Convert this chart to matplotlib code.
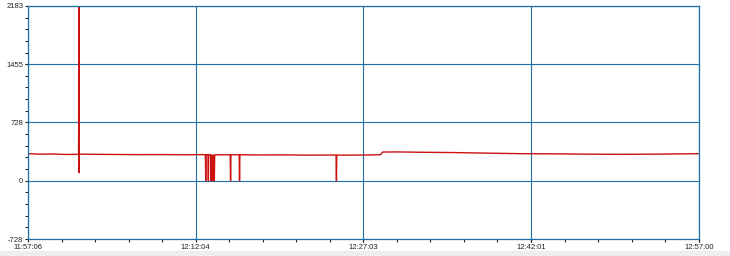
import datetime
import matplotlib
matplotlib.use("Agg")
import matplotlib.pyplot as plt
from matplotlib.ticker import AutoMinorLocator

# readings taken off the chart (time, value)
times = ["11:57:06", "11:58:10", "11:59:20", "12:00:30", "12:01:30",
         "12:01:37", "12:01:38", "12:01:39", "12:01:40", "12:01:41",
         "12:03:00", "12:05:00", "12:07:00", "12:09:00", "12:11:00",
         "12:12:56", "12:12:58", "12:13:00",
         "12:13:10", "12:13:12", "12:13:14",
         "12:13:24", "12:13:26", "12:13:28", "12:13:32", "12:13:34",
         "12:13:38", "12:13:40", "12:13:44", "12:13:46", "12:13:48",
         "12:15:09", "12:15:11", "12:15:13",
         "12:15:57", "12:15:59", "12:16:01",
         "12:18:00", "12:20:00", "12:22:00", "12:24:36", "12:24:38", "12:24:40",
         "12:26:00", "12:27:30", "12:28:35", "12:28:45", "12:30:00",
         "12:32:00", "12:35:00", "12:38:00", "12:41:00", "12:44:00",
         "12:47:00", "12:50:00", "12:53:00", "12:55:00", "12:57:00"]
values = [338, 332, 334, 328, 330,
          330, 2400, 1720, 100, 332,
          330, 328, 326, 327, 325,
          326, 0, 325,
          326, 0, 326,
          324, 0, 320, 0, 318,
          0, 322, 0, 320, 324,
          324, 0, 325,
          324, 0, 324,
          322, 323, 320, 321, 0, 320,
          320, 322, 326, 358, 360,
          356, 352, 345, 338, 336,
          332, 330, 332, 335, 338]

ytick_vals = [-728, 0, 728, 1455, 2183]
xtick_labels = ["11:57:06", "12:12:04", "12:27:03", "12:42:01", "12:57:00"]

day = datetime.date(2000, 1, 1)
def to_dt(s):
    return datetime.datetime.combine(day, datetime.datetime.strptime(s, "%H:%M:%S").time())

t = [to_dt(s) for s in times]
xt = [to_dt(s) for s in xtick_labels]

blue = "#1f6ea8"
plt.rcParams['font.family'] = ['Liberation Sans', 'DejaVu Sans']

fig = plt.figure(figsize=(7.3, 2.56), dpi=100)
fig.patch.set_facecolor("white")
ax = fig.add_axes([28/730, 1-239/256, (699-28)/730, (239-6)/256])

ax.plot(t, values, color="#cc1111", lw=1.0)

ax.set_ylim(-728, 2183)
ax.set_xlim(xt[0], xt[-1])
ax.set_yticks(ytick_vals)
ax.set_yticklabels([str(v) for v in ytick_vals])
ax.set_xticks(xt)
ax.set_xticklabels(xtick_labels)
ax.yaxis.set_minor_locator(AutoMinorLocator(5))
ax.xaxis.set_minor_locator(AutoMinorLocator(5))

ax.grid(True, which="major", color=blue, lw=0.8)
ax.set_axisbelow(True)
for sp in ax.spines.values():
    sp.set_color(blue)
    sp.set_linewidth(0.9)

ax.tick_params(which="both", direction="out", length=2, width=0.8, color="#222222",
               labelsize=5.5, labelcolor="#222222", pad=1.5)

# light strip along the bottom edge
fig.patches.append(plt.Rectangle((0, 0), 1, 5/256, transform=fig.transFigure,
                                 color="#eeeeee", zorder=0))

fig.savefig("out.png", dpi=100)
